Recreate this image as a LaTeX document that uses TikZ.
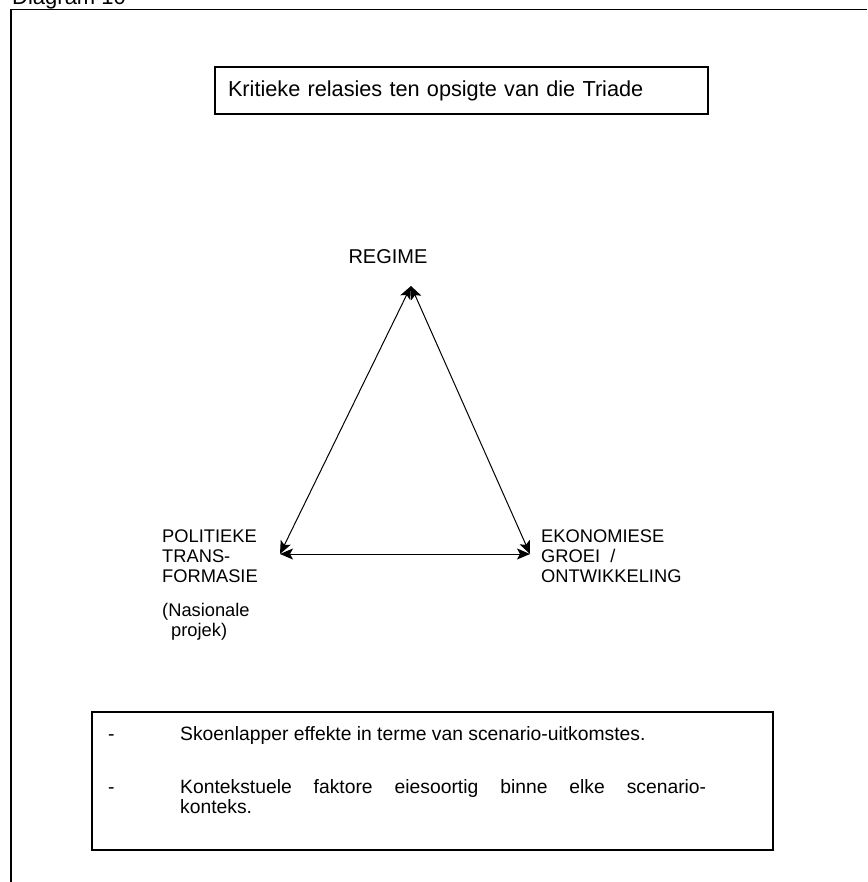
\documentclass[tikz,border=0pt]{standalone}
\usepackage{fontspec}
\setmainfont{Liberation Sans}
\usetikzlibrary{arrows.meta}
\tikzset{
  frameline/.style={line width=1.2pt, black},
  boxstyle/.style={draw, line width=1.2pt, inner sep=0pt},
  arr/.style={line width=1pt, {Stealth[length=13pt,width=11pt,inset=3pt]}-{Stealth[length=13pt,width=11pt,inset=3pt]}},
  lbl/.style={inner sep=0pt, align=left, font=\fontsize{18.3}{20}\selectfont},
  btext/.style={inner sep=0pt, font=\fontsize{19.3}{20.5}\selectfont}
}
\begin{document}
\begin{tikzpicture}[x=1pt,y=-1pt]
\useasboundingbox (0,0) rectangle (867,882);
% header text and frame
\node[anchor=base west, inner sep=0pt, font=\fontsize{22}{26}\selectfont] (diag) at (12,5) {Diagram 10};
\coordinate (fTR) at (867,9.5);
\coordinate (fTL) at (11,9.5);
\coordinate (fBL) at (11,882);
\draw[frameline] (fTR) -- (fTL) -- (fBL);
% title box
\node[boxstyle, text width=467pt, inner xsep=13pt, minimum height=47pt, align=left,
      font=\fontsize{21.7}{26}\selectfont] (title) at (461.5,90.5) {Kritieke relasies ten opsigte van die Triade};
% triad
\node[inner sep=0pt, font=\fontsize{20}{24}\selectfont, anchor=base] (regime) at (388,263) {REGIME};
\coordinate (apex) at (411,286);
\coordinate (cL) at (280,554);
\coordinate (cR) at (530,554);
\draw[arr] (apex) -- (cL);
\draw[arr] (apex) -- (cR);
\draw[arr] (cL) -- (cR);
\node[lbl, anchor=north west] (pol) at (162,530) {POLITIEKE\\TRANS-\\FORMASIE};
\node[lbl, anchor=north west] (nas) at (162,603) {(Nasionale\\\hspace*{9pt}projek)};
\node[lbl, anchor=north west] (eko) at (541,530) {EKONOMIESE\\GROEI\ \ /\\ONTWIKKELING};
% bottom box
\node[boxstyle, minimum width=681pt, minimum height=138pt] (bbox) at (432.5,781) {};
\node[btext, anchor=base west] (d1) at (108,740) {-};
\node[btext, anchor=base west] (t1) at (180,740) {Skoenlapper effekte in terme van scenario-uitkomstes.};
\node[btext, anchor=base west] (d2) at (108,793) {-};
\node[btext, anchor=north west, text width=526pt, align=justify] (t2) at (180,779) {Kontekstuele faktore eiesoortig binne elke scenario-\linebreak konteks.};
\end{tikzpicture}
\end{document}
